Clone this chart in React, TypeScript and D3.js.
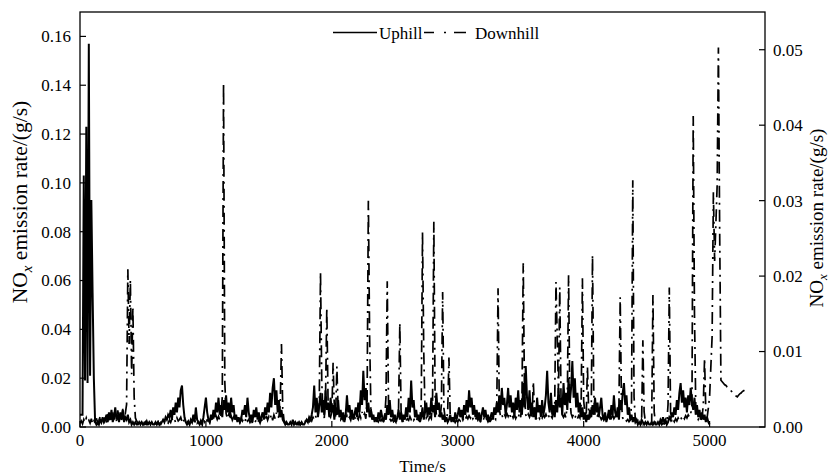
import React from "react";
import * as d3 from "d3";

// sampling interval of both series (s)
const timeStep = 10;

// Uphill NOx emission rate (g/s), left axis, t = 0,10,20,...
const uphillValues = [
  0.005,0.005,0.005,0.103,0.019,0.123,0.018,0.157,0.021,0.093,
  0.055,0.020,0.002,0.001,0.002,0.001,0.003,0.002,0.004,0.002,
  0.003,0.005,0.002,0.006,0.003,0.007,0.002,0.004,0.008,0.003,
  0.005,0.002,0.006,0.003,0.007,0.002,0.004,0.003,0.005,0.002,
  0.003,0.001,0.002,0.001,0.002,0.001,0.001,0.002,0.001,0.002,
  0.001,0.001,0.002,0.001,0.001,0.002,0.001,0.002,0.001,0.001,
  0.002,0.001,0.002,0.001,0.001,0.002,0.003,0.002,0.004,0.003,
  0.005,0.004,0.007,0.003,0.008,0.005,0.010,0.006,0.012,0.008,
  0.015,0.017,0.009,0.004,0.002,0.001,0.002,0.001,0.003,0.002,
  0.005,0.002,0.008,0.003,0.002,0.001,0.002,0.001,0.004,0.008,
  0.012,0.006,0.003,0.002,0.005,0.003,0.007,0.004,0.010,0.006,
  0.012,0.005,0.009,0.004,0.011,0.007,0.013,0.006,0.010,0.004,
  0.012,0.006,0.009,0.003,0.005,0.002,0.004,0.002,0.003,0.007,
  0.005,0.009,0.004,0.012,0.006,0.003,0.005,0.002,0.007,0.004,
  0.008,0.003,0.006,0.002,0.004,0.006,0.003,0.008,0.005,0.010,
  0.006,0.014,0.008,0.016,0.020,0.009,0.015,0.006,0.011,0.004,
  0.007,0.003,0.002,0.001,0.002,0.001,0.001,0.002,0.001,0.003,
  0.001,0.002,0.001,0.001,0.002,0.001,0.002,0.001,0.001,0.002,
  0.003,0.002,0.004,0.003,0.005,0.008,0.017,0.006,0.012,0.004,
  0.009,0.014,0.006,0.011,0.005,0.015,0.007,0.010,0.004,0.012,
  0.006,0.009,0.003,0.008,0.005,0.011,0.004,0.007,0.003,0.006,
  0.002,0.005,0.013,0.006,0.009,0.004,0.007,0.003,0.005,0.008,
  0.004,0.010,0.006,0.015,0.009,0.023,0.011,0.016,0.006,0.010,
  0.004,0.007,0.003,0.005,0.002,0.004,0.002,0.006,0.003,0.007,
  0.004,0.002,0.005,0.003,0.009,0.005,0.011,0.004,0.007,0.003,
  0.005,0.002,0.004,0.007,0.003,0.006,0.002,0.005,0.003,0.008,
  0.004,0.012,0.006,0.019,0.008,0.011,0.004,0.007,0.003,0.005,
  0.002,0.004,0.008,0.003,0.006,0.010,0.004,0.008,0.005,0.012,
  0.006,0.009,0.004,0.014,0.007,0.010,0.004,0.006,0.003,0.005,
  0.002,0.004,0.002,0.003,0.005,0.002,0.004,0.002,0.006,0.003,
  0.005,0.008,0.004,0.007,0.003,0.009,0.005,0.011,0.006,0.015,
  0.008,0.012,0.005,0.009,0.004,0.007,0.003,0.006,0.002,0.005,
  0.008,0.004,0.007,0.003,0.005,0.002,0.004,0.006,0.003,0.008,
  0.005,0.010,0.006,0.013,0.007,0.016,0.009,0.012,0.005,0.009,
  0.016,0.008,0.013,0.006,0.010,0.004,0.012,0.007,0.015,0.006,
  0.011,0.005,0.018,0.008,0.025,0.012,0.007,0.015,0.005,0.010,
  0.004,0.008,0.003,0.012,0.006,0.009,0.004,0.011,0.005,0.008,
  0.013,0.023,0.010,0.006,0.014,0.005,0.009,0.004,0.011,0.006,
  0.016,0.008,0.012,0.005,0.018,0.009,0.014,0.007,0.020,0.010,
  0.016,0.027,0.012,0.020,0.008,0.014,0.006,0.010,0.004,0.008,
  0.003,0.006,0.002,0.005,0.003,0.007,0.004,0.009,0.005,0.012,
  0.006,0.010,0.004,0.008,0.012,0.005,0.003,0.006,0.002,0.004,
  0.007,0.003,0.009,0.005,0.013,0.006,0.004,0.008,0.003,0.011,
  0.007,0.014,0.018,0.009,0.013,0.005,0.008,0.003,0.005,0.002,
  0.004,0.002,0.003,0.001,0.002,0.001,0.003,0.002,0.001,0.002,
  0.001,0.002,0.001,0.001,0.002,0.001,0.002,0.001,0.001,0.002,
  0.001,0.003,0.002,0.004,0.002,0.003,0.001,0.002,0.004,0.003,
  0.006,0.004,0.008,0.005,0.011,0.007,0.014,0.018,0.010,0.015,
  0.008,0.012,0.006,0.013,0.009,0.016,0.010,0.007,0.012,0.005,
  0.009,0.004,0.007,0.003,0.006,0.003,0.005,0.002,0.004,0.002,
  0.001,
];

// Downhill NOx emission rate (g/s), right axis, t = 0,10,20,...
const downhillValues = [
  0.0005,0.0008,0.0004,0.0010,0.0006,0.0012,0.0007,0.0009,0.0005,0.0011,
  0.0004,0.0008,0.0006,0.0012,0.0005,0.0009,0.0014,0.0006,0.0010,0.0007,
  0.0013,0.0006,0.0018,0.0009,0.0015,0.0007,0.0020,0.0010,0.0016,0.0008,
  0.0022,0.0011,0.0017,0.0009,0.0024,0.0012,0.0018,0.0030,0.0209,0.0110,
  0.0195,0.0070,0.0160,0.0040,0.0012,0.0008,0.0005,0.0009,0.0004,0.0007,
  0.0003,0.0006,0.0004,0.0008,0.0003,0.0005,0.0007,0.0004,0.0006,0.0003,
  0.0005,0.0004,0.0007,0.0003,0.0006,0.0004,0.0005,0.0008,0.0004,0.0006,
  0.0005,0.0009,0.0006,0.0011,0.0007,0.0010,0.0006,0.0012,0.0008,0.0010,
  0.0013,0.0007,0.0011,0.0006,0.0009,0.0005,0.0008,0.0004,0.0007,0.0005,
  0.0008,0.0006,0.0010,0.0005,0.0007,0.0004,0.0009,0.0006,0.0011,0.0007,
  0.0012,0.0008,0.0010,0.0006,0.0011,0.0008,0.0013,0.0009,0.0015,0.0010,
  0.0014,0.0009,0.0017,0.0040,0.0456,0.0060,0.0018,0.0011,0.0016,0.0010,
  0.0015,0.0009,0.0013,0.0008,0.0011,0.0007,0.0010,0.0006,0.0012,0.0008,
  0.0011,0.0007,0.0013,0.0008,0.0010,0.0006,0.0009,0.0005,0.0008,0.0006,
  0.0010,0.0006,0.0009,0.0005,0.0011,0.0007,0.0013,0.0008,0.0015,0.0009,
  0.0014,0.0010,0.0017,0.0009,0.0016,0.0011,0.0019,0.0012,0.0014,0.0030,
  0.0110,0.0025,0.0009,0.0006,0.0004,0.0006,0.0003,0.0005,0.0004,0.0006,
  0.0003,0.0005,0.0004,0.0006,0.0003,0.0005,0.0004,0.0007,0.0005,0.0008,
  0.0006,0.0009,0.0007,0.0011,0.0008,0.0013,0.0010,0.0015,0.0011,0.0014,
  0.0030,0.0205,0.0060,0.0018,0.0012,0.0040,0.0158,0.0035,0.0016,0.0013,
  0.0020,0.0085,0.0025,0.0014,0.0080,0.0022,0.0015,0.0010,0.0014,0.0009,
  0.0012,0.0008,0.0015,0.0010,0.0013,0.0009,0.0016,0.0011,0.0014,0.0009,
  0.0013,0.0010,0.0017,0.0012,0.0020,0.0014,0.0018,0.0011,0.0035,0.0300,
  0.0120,0.0025,0.0013,0.0009,0.0012,0.0008,0.0011,0.0007,0.0010,0.0008,
  0.0011,0.0008,0.0012,0.0040,0.0193,0.0030,0.0011,0.0008,0.0010,0.0007,
  0.0009,0.0006,0.0010,0.0025,0.0138,0.0020,0.0009,0.0007,0.0010,0.0008,
  0.0011,0.0009,0.0014,0.0010,0.0013,0.0009,0.0012,0.0008,0.0011,0.0009,
  0.0013,0.0030,0.0258,0.0100,0.0020,0.0012,0.0015,0.0010,0.0014,0.0011,
  0.0035,0.0272,0.0040,0.0016,0.0012,0.0015,0.0011,0.0030,0.0179,0.0025,
  0.0012,0.0009,0.0020,0.0092,0.0015,0.0009,0.0007,0.0010,0.0006,0.0009,
  0.0007,0.0010,0.0008,0.0012,0.0009,0.0013,0.0010,0.0014,0.0011,0.0015,
  0.0012,0.0016,0.0011,0.0014,0.0010,0.0013,0.0009,0.0012,0.0008,0.0011,
  0.0009,0.0012,0.0008,0.0011,0.0007,0.0010,0.0008,0.0011,0.0009,0.0012,
  0.0010,0.0030,0.0184,0.0025,0.0013,0.0016,0.0012,0.0017,0.0013,0.0018,
  0.0014,0.0019,0.0013,0.0017,0.0012,0.0016,0.0011,0.0015,0.0012,0.0018,
  0.0013,0.0040,0.0217,0.0045,0.0016,0.0012,0.0017,0.0013,0.0018,0.0014,
  0.0060,0.0020,0.0013,0.0010,0.0014,0.0011,0.0015,0.0012,0.0016,0.0013,
  0.0017,0.0012,0.0016,0.0011,0.0015,0.0012,0.0018,0.0030,0.0192,0.0120,
  0.0045,0.0185,0.0040,0.0016,0.0013,0.0017,0.0012,0.0035,0.0201,0.0040,
  0.0018,0.0013,0.0017,0.0012,0.0016,0.0011,0.0015,0.0012,0.0030,0.0197,
  0.0035,0.0018,0.0013,0.0080,0.0020,0.0013,0.0017,0.0228,0.0045,0.0016,
  0.0012,0.0015,0.0011,0.0014,0.0010,0.0013,0.0009,0.0012,0.0010,0.0014,
  0.0011,0.0015,0.0012,0.0016,0.0011,0.0014,0.0010,0.0013,0.0030,0.0172,
  0.0030,0.0012,0.0009,0.0011,0.0008,0.0010,0.0007,0.0009,0.0030,0.0327,
  0.0040,0.0010,0.0007,0.0009,0.0006,0.0008,0.0005,0.0115,0.0020,0.0007,
  0.0005,0.0007,0.0004,0.0006,0.0004,0.0175,0.0020,0.0006,0.0004,0.0006,
  0.0004,0.0006,0.0003,0.0005,0.0004,0.0006,0.0004,0.0030,0.0185,0.0020,
  0.0006,0.0010,0.0007,0.0011,0.0008,0.0012,0.0009,0.0013,0.0010,0.0014,
  0.0011,0.0015,0.0012,0.0016,0.0013,0.0017,0.0030,0.0412,0.0150,0.0030,
  0.0014,0.0010,0.0013,0.0009,0.0012,0.0030,0.0091,0.0020,0.0012,0.0025,
  0.0040,0.0080,0.0120,0.0311,0.0220,0.0270,0.0320,0.0503,0.0260,0.0062,
  0.0060,0.0058,0.0056,0.0055,0.0053,0.0052,0.0050,0.0048,0.0046,0.0044,
  0.0042,0.0041,0.0040,0.0042,0.0044,0.0045,0.0047,0.0048,0.0049,
];

const seriesNames = ["Uphill", "Downhill"];
const xTicks = [0, 1000, 2000, 3000, 4000, 5000];
const leftTicks = [0, 0.02, 0.04, 0.06, 0.08, 0.1, 0.12, 0.14, 0.16];
const rightTicks = [0, 0.01, 0.02, 0.03, 0.04, 0.05];

const W = 829;
const H = 476;
const M = { left: 80, right: 64, top: 12, bottom: 49 };
const FONT = "Liberation Serif";
const DASH = "12,5,2,5";

export default function App() {
  const x = d3.scaleLinear().domain([0, 5440]).range([M.left, W - M.right]);
  const yL = d3.scaleLinear().domain([0, 0.17]).range([H - M.bottom, M.top]);
  const yR = d3.scaleLinear().domain([0, 0.055]).range([H - M.bottom, M.top]);
  const fmt = d3.format(".2f");

  const upLine = d3
    .line<number>()
    .x((_, i) => x(i * timeStep))
    .y((d) => yL(d));
  const downLine = d3
    .line<number>()
    .x((_, i) => x(i * timeStep))
    .y((d) => yR(d));

  const x0 = M.left;
  const x1 = W - M.right;
  const y0 = H - M.bottom;
  const y1 = M.top;
  const tick = 6;
  const txt = { fontFamily: FONT, fill: "#000" } as React.CSSProperties;

  return (
    <svg
      width={W}
      height={H}
      style={{ position: "absolute", left: 0, top: 0, display: "block", background: "#fff", fontFamily: FONT }}
    >
      <defs>
        <clipPath id="plot">
          <rect x={x0} y={y1} width={x1 - x0} height={y0 - y1} />
        </clipPath>
      </defs>
      <rect x={0} y={0} width={W} height={H} fill="#fff" />

      <g clipPath="url(#plot)">
        <path d={downLine(downhillValues) || ""} fill="none" stroke="#000" strokeWidth={1.7} strokeDasharray={DASH} />
        <path d={upLine(uphillValues) || ""} fill="none" stroke="#000" strokeWidth={2} strokeLinejoin="miter" />
      </g>

      {/* frame */}
      <rect x={x0} y={y1} width={x1 - x0} height={y0 - y1} fill="none" stroke="#000" strokeWidth={1.3} />

      {/* left axis */}
      {leftTicks.map((t) => (
        <g key={"l" + t}>
          <line x1={x0} x2={x0 + tick} y1={yL(t)} y2={yL(t)} stroke="#000" strokeWidth={1.2} />
          <text x={x0 - 9} y={yL(t)} dy="0.35em" textAnchor="end" fontSize={17} style={txt}>
            {fmt(t)}
          </text>
        </g>
      ))}

      {/* right axis */}
      {rightTicks.map((t) => (
        <g key={"r" + t}>
          <line x1={x1} x2={x1 - tick} y1={yR(t)} y2={yR(t)} stroke="#000" strokeWidth={1.2} />
          <text x={x1 + 8} y={yR(t)} dy="0.35em" textAnchor="start" fontSize={17} style={txt}>
            {fmt(t)}
          </text>
        </g>
      ))}

      {/* bottom axis */}
      {xTicks.map((t) => (
        <g key={"x" + t}>
          <line x1={x(t)} x2={x(t)} y1={y0} y2={y0 - tick} stroke="#000" strokeWidth={1.2} />
          <text x={x(t)} y={y0 + 19} textAnchor="middle" fontSize={17} style={txt}>
            {t}
          </text>
        </g>
      ))}

      {/* axis titles */}
      <text x={(x0 + x1) / 2} y={472} textAnchor="middle" fontSize={17} style={txt}>
        Time/s
      </text>
      <text transform="translate(27, 202) rotate(-90)" textAnchor="middle" fontSize={21.5} style={txt}>
        NO
        <tspan fontStyle="italic" fontSize={15} dy={5}>x</tspan>
        <tspan dy={-5}> emission rate/(g/s)</tspan>
      </text>
      <text transform="translate(823, 218) rotate(-90)" textAnchor="middle" fontSize={19} style={txt}>
        NO
        <tspan fontStyle="italic" fontSize={13} dy={4}>x</tspan>
        <tspan dy={-4}> emission rate/(g/s)</tspan>
      </text>

      {/* legend */}
      <line x1={333} x2={377} y1={32.5} y2={32.5} stroke="#000" strokeWidth={1.6} />
      <text x={379} y={38.5} fontSize={17} style={txt}>
        {seriesNames[0]}
      </text>
      <line x1={424} x2={466} y1={32.5} y2={32.5} stroke="#000" strokeWidth={1.6} strokeDasharray="10,10,2,8,14" />
      <text x={475} y={38.5} fontSize={17} style={txt}>
        {seriesNames[1]}
      </text>
    </svg>
  );
}
